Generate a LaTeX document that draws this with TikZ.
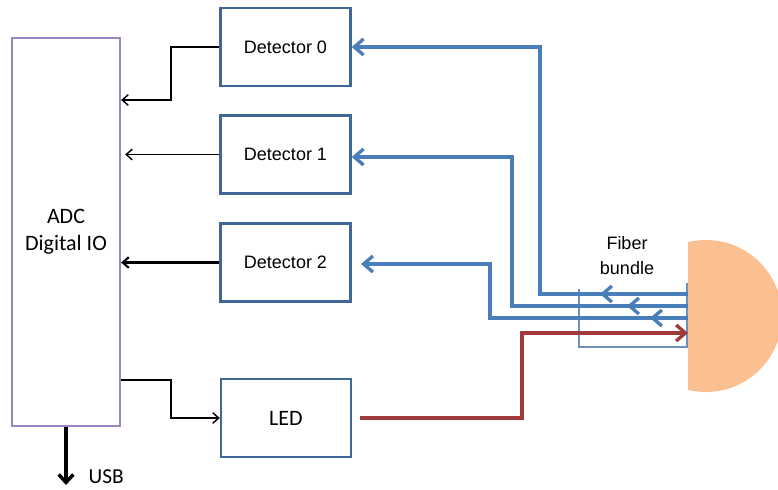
\documentclass[tikz,border=0pt]{standalone}
\usepackage{fontspec}
\setmainfont{Liberation Sans}
\newfontfamily\calib{Carlito}
\usetikzlibrary{arrows.meta}
\definecolor{boxblue}{HTML}{3F6897}
\definecolor{lineblue}{HTML}{4A7EBB}
\definecolor{adcpurple}{HTML}{9C84C2}
\definecolor{fibred}{HTML}{A0393A}
\definecolor{orangefill}{HTML}{FAC090}
\definecolor{bundlecol}{HTML}{6F8FBF}
\tikzset{
  detbox/.style={draw=boxblue, line width=1.8pt, minimum width=97.5pt, minimum height=58.5pt, inner sep=0pt, font=\fontsize{13.5}{16}\selectfont},
  adcbox/.style={draw=adcpurple, line width=1.7pt, minimum width=81pt, minimum height=291pt, inner sep=0pt, align=center, font=\calib\fontsize{16.5}{20}\selectfont},
  thinarrow/.style={black, line width=1.1pt, -{Straight Barb[length=4.5pt,width=8pt]}},
  midarrow/.style={black, line width=1.6pt, -{Straight Barb[length=4.5pt,width=8pt]}},
  bluearrow/.style={lineblue, line width=2.5pt, -{Straight Barb[length=7pt,width=12pt]}},
  redarrow/.style={fibred, line width=2.5pt, -{Straight Barb[length=7pt,width=12pt]}},
  usbarrow/.style={black, line width=2.6pt, -{Straight Barb[length=6pt,width=11pt]}},
}
\begin{document}
\begin{tikzpicture}[x=0.75pt, y=-0.75pt]
\useasboundingbox (0,0) rectangle (778,489);
% orange half disc
\begin{scope}
\clip (688,0) rectangle (778,489);
\fill[orangefill] (706,316) circle[radius=57pt];
\end{scope}
% nodes
\node[adcbox] (adc) at (66,232) {ADC\\Digital IO};
\node[detbox] (det0) at (285.5,47) {Detector 0};
\node[detbox] (det1) at (285.5,154.5) {Detector 1};
\node[detbox] (det2) at (285.5,262.5) {Detector 2};
\node[detbox, font=\calib\fontsize{16.5}{20}\selectfont] (led) at (286,418) {LED};
\node[font=\calib\fontsize{16}{19}\selectfont, anchor=west] (usb) at (84,477) {USB};
\node[align=center, font=\fontsize{13.5}{18.75}\selectfont] (fiber) at (627,256) {Fiber\\bundle};
% bundle end coordinates
\coordinate (b0) at (688,294);
\coordinate (b1) at (688,306);
\coordinate (b2) at (688,318);
\coordinate (br) at (688,333);
% bundle outline
\draw[bundlecol, line width=1pt] (579,289) -- (579,347) -- (687,347) -- (687,283);
% black connectors
\draw[thinarrow] (det0.west) -- (171,47) |- (adc.east |- 0,100);
\draw[thinarrow, shorten >=3pt] (det1.west) -- (adc.east |- det1.west);
\draw[midarrow] (det2.west) -- (adc.east |- det2.west);
\draw[thinarrow] (adc.east |- 0,380) -- (171,380) |- (led.west);
\draw[usbarrow] (adc.south) -- (66,485);
% blue fibers
\draw[bluearrow] (b0) -- (540,294) -- (540,47) -- (det0.east);
\draw[bluearrow] (b1) -- (512,306) -- (512,157) -- (det1.east |- 0,157);
\draw[bluearrow, shorten >=7pt] (b2) -- (490,318) -- (490,264) -- (det2.east |- 0,264);
\draw[bluearrow] (b0) -- (600,294);
\draw[bluearrow] (b1) -- (627,306);
\draw[bluearrow] (b2) -- (650,318);
% red fiber
\draw[redarrow, shorten <=6pt] (led.east) -- (522,418) -- (522,333) -- (br);
\end{tikzpicture}
\end{document}
